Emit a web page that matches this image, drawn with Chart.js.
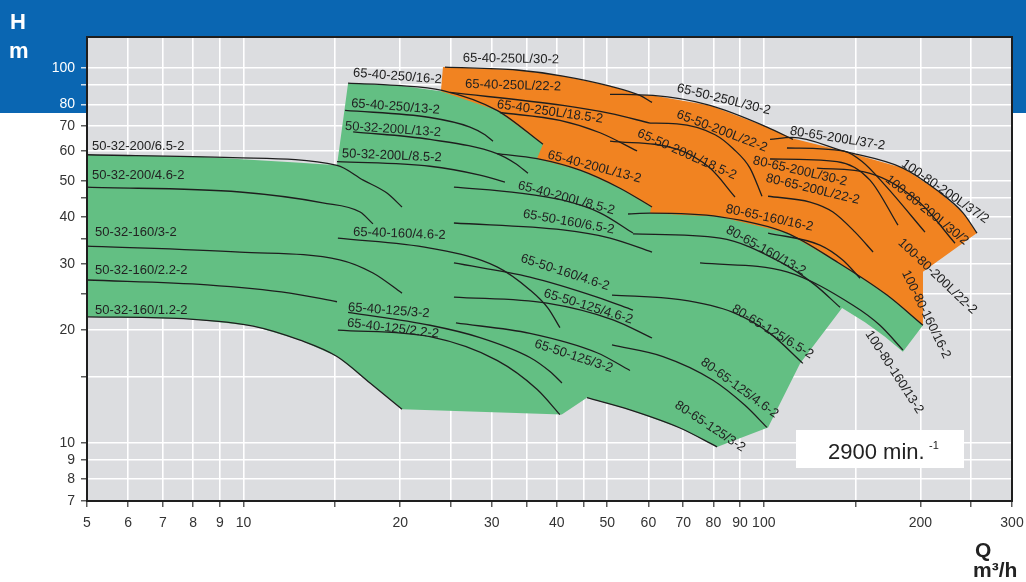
<!DOCTYPE html>
<html>
<head>
<meta charset="utf-8">
<title>Pump curves 2900 min-1</title>
<script src="https://cdn.jsdelivr.net/npm/chart.js@4.4.1/dist/chart.umd.min.js"></script>
<style>
  body { margin: 0; background: #fff; }
  canvas { display: block; }
</style>
</head>
<body>
<canvas id="chart" width="1026" height="582"></canvas>
<script>
// axis ticks (Q in m3/h, H in m, both log)
const qTicks = [5, 6, 7, 8, 9, 10, 15, 20, 25, 30, 35, 40, 45, 50, 60, 70, 80, 90, 100, 150, 200, 250, 300];
const qTickLabels = [5, 6, 7, 8, 9, 10, 20, 30, 40, 50, 60, 70, 80, 90, 100, 200, 300];
const hTicks = [7, 8, 9, 10, 15, 20, 25, 30, 35, 40, 45, 50, 60, 70, 80, 90, 100];
const hTickLabels = [7, 8, 9, 10, 20, 30, 40, 50, 60, 70, 80, 100];

// working ranges [Q, H]
const greenArea = [[5, 58.7], [8.25, 58.0], [12.84, 55.9], [15.12, 55.0], [15.88, 91.1], [19.72, 89.9], [23.95, 86.7],
  [48.44, 82.0], [182.7, 44.4], [202.3, 28.6], [202.3, 20.6], [185.1, 17.5], [171.0, 19.2], [156.5, 21.0], [141.4, 22.9],
  [117.4, 16.3], [101.9, 11.0], [81.3, 9.76], [69.0, 10.96], [55.3, 12.25], [45.7, 13.2], [40.9, 11.9], [20.16, 12.3],
  [17.5, 14.45], [15.12, 17.0], [12.84, 18.8], [10.43, 20.5], [7.88, 21.4], [5, 21.7], [5, 58.7]];
const orangeArea = [[24.17, 100.6], [33.54, 98.8], [41.1, 95.2], [50.63, 89.5], [57.8, 84.8], [61.24, 84.5], [78.82, 79.5],
  [101.4, 69.6], [113.8, 64.9], [142.0, 60.1], [185.1, 54.1], [215.3, 47.2], [241.5, 41.1], [256.9, 36.3], [202.3, 28.6],
  [202.3, 20.6], [172.5, 24.8], [138.3, 30.4], [110.8, 36.3], [82.38, 40.1], [60.43, 41.0], [60.7, 42.6], [52.9, 47.8],
  [44.33, 53.4], [36.64, 57.3], [37.63, 62.6], [30.7, 77.1], [23.95, 86.7], [24.17, 100.6]];

// pump curves [Q, H]
const c50_32_200_65 = [[5, 58.7], [9.54, 57.7], [15.12, 55.0], [16.98, 50.25], [18.86, 46.4], [20.16, 42.6]];
const c50_32_200_46 = [[5, 48.1], [9.84, 46.7], [14.2, 43.7], [16.75, 41.3], [17.73, 38.4]];
const c50_32_160_3 = [[5, 33.5], [9.84, 32.3], [15.3, 30.8], [17.73, 28.4], [20.16, 25.1]];
const c50_32_160_22 = [[5, 27.2], [8.51, 26.4], [12.28, 25.1], [15.12, 23.8]];
const c50_32_160_12 = [[5, 21.7], [7.88, 21.4], [10.43, 20.5], [12.84, 18.8], [15.12, 17.0], [17.5, 14.45], [20.16, 12.3]];
const c65_40_250_16 = [[15.88, 91.1], [19.72, 89.9], [24.07, 87.2], [30.7, 77.1], [37.63, 62.6]];
const c65_40_250_13 = [[15.67, 77.1], [22.82, 73.8], [27.24, 69.6], [29.11, 66.4], [30.16, 63.8]];
const c50_32_200L_13 = [[16.24, 67.6], [22.82, 64.5], [30.7, 59.1], [33.24, 55.7], [35.21, 52.4]];
const c50_32_200L_85 = [[15.12, 56.3], [22.82, 54.7], [28.47, 51.8], [31.8, 49.6]];
const c65_40_200L_13 = [[30.7, 59.1], [36.64, 57.3], [44.33, 53.4], [52.9, 47.8], [60.97, 42.6]];
const c65_40_160_46 = [[15.18, 35.2], [22.82, 33.1], [30.7, 29.5], [35.52, 25.6], [38.47, 22.9], [40.56, 20.3]];
const c65_40_125_3 = [[15.88, 22.3], [22.82, 20.6], [28.47, 19.1], [35.52, 16.9], [38.81, 15.5], [40.92, 14.45]];
const c65_40_125_22 = [[15.18, 20.0], [22.82, 19.2], [30.7, 16.6], [36.64, 13.9], [40.56, 11.9]];
const c65_40_200L_85 = [[25.37, 48.1], [33.99, 46.4], [41.1, 44.4], [48.44, 41.1], [56.05, 36.3]];
const c65_50_160_65 = [[25.37, 38.6], [41.1, 37.0], [50.63, 35.2], [60.97, 32.3]];
const c65_50_160_46 = [[25.37, 30.2], [35.52, 27.7], [47.8, 24.5], [56.05, 22.6]];
const c65_50_125_46 = [[25.37, 24.5], [38.3, 23.6], [51.3, 21.3], [60.97, 19.05]];
const c65_50_125_3 = [[25.6, 20.9], [35.52, 19.6], [47.8, 17.4], [55.31, 15.6]];
const c80_65_160_16 = [[54.83, 40.8], [60.43, 41.0], [82.38, 40.1], [110.8, 36.3], [138.3, 30.4], [172.5, 24.8], [202.3, 20.6]];
const c80_65_160_13 = [[56.05, 36.1], [82.38, 35.2], [107.5, 30.4], [125.4, 26.4], [140.1, 23.0]];
const c100_80_160_16 = [[101.9, 36.3], [128.2, 33.7], [142, 30.7], [153.1, 27.5]];
const c100_80_160_13 = [[75.41, 30.2], [110.8, 28.6], [148.4, 23.3], [167.2, 20.6], [185.1, 17.7]];
const c80_65_125_65 = [[51.07, 24.8], [69.02, 24.1], [87.25, 22.3], [102.8, 19.6], [118.9, 16.3]];
const c80_65_125_46 = [[51.07, 18.25], [64.01, 17.0], [79.87, 14.7], [92.01, 12.6], [101.4, 11.0]];
const c80_65_125_3 = [[45.73, 13.2], [55.31, 12.25], [69.02, 10.96], [81.3, 9.76]];
const c65_40_250L_30 = [[24.38, 100.6], [33.54, 98.8], [41.1, 95.2], [50.63, 89.5], [57.8, 84.5], [60.97, 81.0]];
const c65_50_250L_30 = [[50.63, 85.1], [61.24, 84.5], [78.82, 79.5], [101.4, 69.6], [113.8, 64.5]];
const c65_40_250L_22 = [[24.92, 86.1], [41.1, 79.5], [50.63, 75.7], [60.43, 71.3]];
const c65_50_200L_22 = [[60.43, 71.3], [68.1, 71.0], [80.6, 66.4], [87.25, 61.0], [94.07, 54.1], [99.2, 45.5]];
const c65_40_250L_185 = [[31.1, 76.1], [40.56, 72.5], [48.44, 67.2], [57.06, 60.1]];
const c65_50_200L_185 = [[50.63, 63.8], [68.1, 60.8], [78.82, 54.1], [88.03, 45.3]];
const c100_80_200L_37 = [[102.8, 64.5], [113.3, 65.3], [142.0, 60.1], [185.1, 54.1], [215.3, 47.2], [241.5, 41.1], [256.9, 36.3]];
const c80_65_200L_37 = [[110.8, 61.2], [142, 60.1], [154.5, 56.3], [171.0, 48.7], [204.1, 36.5]];
const c80_65_200L_30 = [[102.8, 57.2], [138.3, 56.3], [160, 50.25], [181.1, 38.1]];
const c100_80_200L_30 = [[126.5, 54.1], [160, 52.4], [199.6, 43.7], [233.1, 34.1]];
const c80_65_200L_22 = [[101.9, 45.5], [122.7, 43.9], [135.8, 41.3], [149.8, 36.5], [162.2, 32.3]];

const curveList = [c50_32_200_65, c50_32_200_46, c50_32_160_3, c50_32_160_22, c50_32_160_12, c65_40_250_16,
  c65_40_250_13, c50_32_200L_13, c50_32_200L_85, c65_40_200L_13, c65_40_160_46, c65_40_125_3, c65_40_125_22,
  c65_40_200L_85, c65_50_160_65, c65_50_160_46, c65_50_125_46, c65_50_125_3, c80_65_160_16, c80_65_160_13,
  c100_80_160_16, c100_80_160_13, c80_65_125_65, c80_65_125_46, c80_65_125_3, c65_40_250L_30, c65_50_250L_30,
  c65_40_250L_22, c65_50_200L_22, c65_40_250L_185, c65_50_200L_185, c100_80_200L_37, c80_65_200L_37,
  c80_65_200L_30, c100_80_200L_30, c80_65_200L_22];

// curve names: text, Q, H at start of text, angle in degrees
const curveLabels = [
  ['50-32-200/6.5-2', 5.11, 61.9, 0],
  ['50-32-200/4.6-2', 5.11, 51.8, 0],
  ['50-32-160/3-2', 5.18, 36.5, 0],
  ['50-32-160/2.2-2', 5.18, 28.9, 0],
  ['50-32-160/1.2-2', 5.18, 22.6, 0],
  ['65-40-250/16-2', 16.24, 97.0, 4.4],
  ['65-40-250L/30-2', 26.4, 106.3, 1],
  ['65-40-250/13-2', 16.1, 80.5, 4.4],
  ['50-32-200L/13-2', 15.67, 70.0, 3.9],
  ['50-32-200L/8.5-2', 15.46, 59.1, 2.4],
  ['65-40-250L/22-2', 26.65, 90.5, 1.5],
  ['65-40-250L/18.5-2', 30.7, 80.0, 8],
  ['65-40-200L/13-2', 38.47, 58.7, 14.7],
  ['65-40-200L/8.5-2', 33.7, 48.7, 15],
  ['65-50-160/6.5-2', 34.45, 40.8, 10],
  ['65-40-160/4.6-2', 16.24, 36.5, 2],
  ['65-50-160/4.6-2', 34.15, 31.1, 18],
  ['65-50-125/4.6-2', 37.8, 25.1, 17],
  ['65-40-125/3-2', 15.88, 23.0, 4.5],
  ['65-40-125/2.2-2', 15.81, 20.9, 7],
  ['65-50-125/3-2', 36.3, 18.4, 18],
  ['65-50-250L/30-2', 68.1, 88.4, 13.8],
  ['65-50-200L/22-2', 68.1, 75.4, 21],
  ['65-50-200L/18.5-2', 57.3, 67.2, 24],
  ['80-65-200L/37-2', 112.3, 67.9, 9],
  ['80-65-200L/30-2', 95.4, 56.7, 13],
  ['80-65-200L/22-2', 101.0, 50.9, 13.6],
  ['100-80-200L/37/2', 185.1, 56.0, 34.6],
  ['100-80-200L/30/2', 172.5, 50.9, 39],
  ['80-65-160/16-2', 84.6, 42.1, 12],
  ['80-65-160/13-2', 84.97, 37.2, 29],
  ['100-80-200L/22-2', 182.7, 34.6, 43.5],
  ['100-80-160/16-2', 186.8, 28.7, 64],
  ['100-80-160/13-2', 158.6, 19.8, 57],
  ['80-65-125/6.5-2', 87.25, 22.9, 31],
  ['80-65-125/4.6-2', 76.1, 16.55, 36],
  ['80-65-125/3-2', 67.8, 12.7, 33.5]
];

const BLUE = '#0a66b2';
const GREEN = '#63bf83';
const ORANGE = '#f18321';
const INK = '#1e1e1e';
const FONT = '"Liberation Sans", Arial, sans-serif';

function toXY(list) {
  return list.map(p => ({ x: p[0], y: p[1] }));
}

let datasets = [];
datasets.push({
  data: toXY(greenArea), backgroundColor: GREEN, borderWidth: 0, fill: 'shape',
  pointRadius: 0, tension: 0, order: 20
});
datasets.push({
  data: toXY(orangeArea), backgroundColor: ORANGE, borderWidth: 0, fill: 'shape',
  pointRadius: 0, tension: 0, order: 10
});
curveList.forEach(c => {
  datasets.push({
    data: toXY(c), borderColor: INK, borderWidth: 1.3, fill: false,
    pointRadius: 0, cubicInterpolationMode: 'monotone', order: 0
  });
});

const pagePlugin = {
  id: 'page',
  beforeDraw(chart) {
    const ctx = chart.ctx;
    const a = chart.chartArea;
    ctx.save();
    ctx.fillStyle = '#fff';
    ctx.fillRect(0, 0, chart.width, chart.height);
    ctx.fillStyle = BLUE;
    ctx.fillRect(0, 0, chart.width, 113);
    ctx.fillStyle = '#dcdde0';
    ctx.fillRect(a.left, a.top, a.right - a.left, a.bottom - a.top);
    ctx.restore();
  },
  afterDatasetsDraw(chart) {
    const ctx = chart.ctx;
    const xs = chart.scales.x, ys = chart.scales.y;
    ctx.save();
    ctx.fillStyle = '#222';
    ctx.font = '13px ' + FONT;
    ctx.textAlign = 'left';
    ctx.textBaseline = 'middle';
    curveLabels.forEach(l => {
      ctx.save();
      ctx.translate(xs.getPixelForValue(l[1]), ys.getPixelForValue(l[2]));
      ctx.rotate(l[3] * Math.PI / 180);
      ctx.fillText(l[0], 0, 0);
      ctx.restore();
    });
    ctx.restore();
  },
  afterDraw(chart) {
    const ctx = chart.ctx;
    const a = chart.chartArea;
    ctx.save();
    ctx.strokeStyle = INK;
    ctx.lineWidth = 2;
    ctx.strokeRect(a.left, a.top, a.right - a.left, a.bottom - a.top);

    // speed box
    ctx.fillStyle = '#fff';
    ctx.fillRect(796, 430, 168, 38);
    ctx.fillStyle = '#222';
    ctx.font = '22px ' + FONT;
    ctx.textBaseline = 'alphabetic';
    ctx.textAlign = 'left';
    ctx.fillText('2900 min.', 828, 459);
    ctx.font = '11px ' + FONT;
    ctx.fillText('-1', 929, 449);

    // axis titles
    ctx.font = 'bold 22px ' + FONT;
    ctx.fillStyle = '#fff';
    ctx.fillText('H', 10, 29);
    ctx.fillText('m', 9, 58);
    ctx.fillStyle = '#222';
    ctx.font = 'bold 21px ' + FONT;
    ctx.fillText('Q', 975, 557);
    ctx.fillText('m\u00B3/h', 973, 577);
    ctx.restore();
  }
};

const tickColor = c => (c.tick && c.tick.value >= 80 ? '#fff' : '#333');

new Chart(document.getElementById('chart').getContext('2d'), {
  type: 'line',
  data: { datasets: datasets },
  options: {
    responsive: false,
    animation: false,
    events: [],
    layout: { padding: { left: 0, top: 37, right: 14, bottom: 0 } },
    plugins: { legend: { display: false }, tooltip: { enabled: false } },
    scales: {
      x: {
        type: 'logarithmic', min: 5, max: 300,
        afterBuildTicks: s => { s.ticks = qTicks.map(v => ({ value: v })); },
        afterFit: s => { s.height = 81; s.paddingLeft = 0; s.paddingRight = 0; },
        grid: { color: '#fff', lineWidth: 1.6, tickLength: 6, tickColor: '#333', tickWidth: 1.2 },
        border: { color: INK, width: 2 },
        ticks: {
          autoSkip: false, maxRotation: 0, padding: 8, color: '#333',
          font: { family: FONT, size: 14 },
          callback: v => (qTickLabels.includes(v) ? String(v) : '')
        }
      },
      y: {
        type: 'logarithmic', min: 7, max: 121,
        afterBuildTicks: s => { s.ticks = hTicks.map(v => ({ value: v })); },
        afterFit: s => { s.width = 87; s.paddingTop = 0; s.paddingBottom = 0; },
        grid: { color: '#fff', lineWidth: 1.6, tickLength: 6, tickColor: tickColor, tickWidth: 1.2 },
        border: { color: INK, width: 2 },
        ticks: {
          autoSkip: false, padding: 6, color: tickColor,
          font: { family: FONT, size: 14 },
          callback: v => (hTickLabels.includes(v) ? String(v) : '')
        }
      }
    }
  },
  plugins: [pagePlugin]
});
</script>
</body>
</html>
